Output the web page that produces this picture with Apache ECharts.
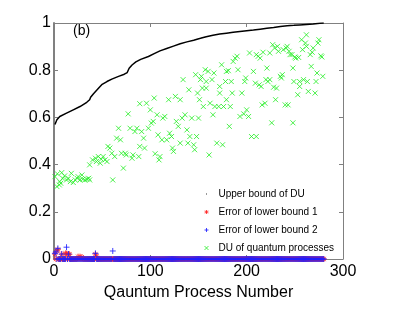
<!DOCTYPE html>
<html><head><meta charset="utf-8">
<script src="https://cdn.jsdelivr.net/npm/echarts@6/dist/echarts.min.js"></script>
<style>html,body{margin:0;padding:0;background:#fff}#c{width:415px;height:327px}</style>
</head><body><div id="c"></div>
<script>
// Upper bound of DU: [process number, value]
const upperBound = [[1,.57],[3,.59],[6,.604],[13,.618],[20,.632],[27,.646],[34,.664],[37,.675],[38,.685],[41,.700],[45,.718],[50,.740],[55,.752],[60,.762],[67,.774],[73,.783],[76,.790],[78,.808],[81,.822],[85,.835],[90,.846],[98,.858],[104,.870],[110,.882],[117,.892],[124,.902],[131,.912],[138,.920],[145,.927],[152,.935],[158,.942],[165,.948],[172,.953],[179,.957],[186,.961],[193,.964],[200,.967],[207,.970],[214,.974],[221,.978],[228,.981],[235,.985],[242,.988],[249,.990],[255,.992],[262,.994],[269,.996],[276,.999],[280,1.0]];

// Error of lower bound 1 (process numbers 1..280)
const errorLower1 = [
0.021,0,0.035,0.04,0,0,0,0.02,0,0,0,0.024,0.022,0,0.021,0.02,0,0,0,0,
0,0,0,0,0.01,0,0.01,0,0.008,0,0,0,0,0,0,0,0,0,0,0,
0,0,0.021,0.012,0,0,0,0,0,0,0,0,0,0,0,0,0,0,0,0,
0,0,0,0,0,0,0,0,0,0,0,0,0,0,0,0,0,0,0,0,
0,0,0,0,0,0,0,0,0,0,0,0,0,0,0,0,0,0,0,0,
0,0,0,0,0,0,0,0,0,0,0,0,0,0,0,0,0,0,0,0,
0,0,0,0,0,0,0,0,0,0,0,0,0,0,0,0,0,0,0,0,
0,0,0,0,0,0,0,0,0,0,0,0,0,0,0,0,0,0,0,0,
0,0,0,0,0,0,0,0,0,0,0,0,0,0,0,0,0,0,0,0,
0,0,0,0,0,0,0,0,0,0,0,0,0,0,0,0,0,0,0,0,
0,0,0,0,0,0,0,0,0,0,0,0,0,0,0,0,0,0,0,0,
0,0,0,0,0,0,0,0,0,0,0,0,0,0,0,0,0,0,0,0,
0,0,0,0,0,0,0,0,0,0,0,0,0,0,0,0,0,0,0,0,
0,0,0,0,0,0,0,0,0,0,0,0,0,0,0,0,0,0,0,0];

// Error of lower bound 2 (process numbers 1..280)
const errorLower2 = [
0.024,0.03,0,0.045,0,0,0,0.021,0,0,0,0,0.05,0,0.021,0,0,0,0,0,
0,0,0,0,0,0,0,0,0,0,0,0,0,0,0,0,0,0,0,0,
0,0,0.024,0,0,0,0,0,0,0,0,0,0,0,0,0,0,0,0,0,
0.034,0,0,0,0,0,0,0,0,0,0,0,0,0,0,0,0,0,0,0,
0,0,0,0,0,0,0,0,0,0,0,0,0,0,0,0,0,0,0,0,
0,0,0,0,0,0,0,0,0,0,0,0,0,0,0,0,0,0,0,0,
0,0,0,0,0,0,0,0,0,0,0,0,0,0,0,0,0,0,0,0,
0,0,0,0,0,0,0,0,0,0,0,0,0,0,0,0,0,0,0,0,
0,0,0,0,0,0,0,0,0,0,0,0,0,0,0,0,0,0,0,0,
0,0,0,0,0,0,0,0,0,0,0,0,0,0,0,0,0,0,0,0,
0,0,0,0,0,0,0,0,0,0,0,0,0,0,0,0,0,0,0,0,
0,0,0,0,0,0,0,0,0,0,0,0,0,0,0,0,0,0,0,0,
0,0,0,0,0,0,0,0,0,0,0,0,0,0,0,0,0,0,0,0,
0,0,0,0,0,0,0,0,0,0,0,0,0,0,0,0,0,0,0,0];

// DU of quantum processes: [process number, value]
const duQuantum = [[1,.349],[3.5,.361],[3,.307],[6,.328],[8,.366],[9,.342],[11,.352],[13,.335],[15,.342],[17,.328],[18,.363],[20,.324],[22,.335],[24,.342],[25,.349],[27,.335],[29,.356],[30,.338],[32,.335],[34,.338],[36,.342],[37,.335],[5.5,.314],[7,.321],
[37,.399],[40,.420],[43,.427],[44,.413],[46,.434],[48,.406],[49,.423],[51,.434],[53,.420],[55,.413],[56,.477],[58,.470],[60,.448],[61,.335],[63,.434],[65,.512],[67,.554],[69,.505],[70,.448],[72,.385],[74,.448],[75,.441],[77,.615],[79,.554],[81,.427],[82,.441],[84,.540],[86,.554],[88,.434],[89,.658],[89,.477],[91,.540],[93,.512],[94,.470],[96,.660],[98,.554],[100,.632],[101,.576],[103,.583],[104,.682],[105,.446],[107,.611],[108,.526],[109,.420],[110,.434],[112,.505],[113,.597],[115,.604],[117,.505],[119,.675],[120,.533],[122,.519],[123,.470],[124,.456],[126,.689],[127,.583],[129,.562],[131,.491],[131,.675],[133,.597],[134,.760],[136,.611],[138,.547],[139,.491],[140,.717],[141,.519],[143,.597],[145,.484],[146,.463],[147,.781],[148,.519],[149,.703],[150,.597],[151,.675],[152,.760],[153,.774],[154,.724],[155,.646],[157,.802],[158,.752],[158,.724],[160,.795],[161,.441],[162,.660],[164,.760],[165,.611],[166,.788],[167,.646],[169,.491],[171,.646],[172,.703],[172,.731],[174,.823],[175,.484],[176,.646],[178,.752],[179,.795],[179,.675],[181,.798],[182,.562],[183,.646],[184,.752],[185,.703],[186,.837],[188,.851],[190,.859],[191,.802],[193,.604],[195,.703],[197,.615],[198,.752],[199,.767],[200,.632],[202,.604],[203,.873],[205,.519],[207,.795],[209,.745],[210,.866],[210,.519],[212,.859],[213,.738],[214,.851],[215,.731],[216,.653],[217,.876],[219,.660],[220,.760],[221,.809],[222,.752],[224,.760],[224,.873],[226,.577],[227,.908],[228,.728],[229,.894],[230,.675],[231,.724],[232,.901],[233,.880],[235,.774],[236,.767],[237,.781],[238,.887],[240,.653],[241,.894],[242,.901],[243,.653],[244,.880],[245,.866],[247,.866],[248,.577],[248,.809],[249,.752],[250,.856],[251,.851],[253,.696],[254,.854],[255,.731],[255,.752],[257,.929],[258,.887],[259,.760],[261,.915],[262,.950],[262,.901],[263,.752],[264,.710],[266,.866],[267,.816],[268,.876],[269,.894],[271,.703],[272,.752],[273,.788],[274,.915],[275,.929],[277,.861],[278,.856],[279,.774]];

const xTicks = {min: 0, max: 300, interval: 100};
const yTicks = {min: 0, max: 1, interval: 0.2};
const seriesNames = ['Upper bound of DU','Error of lower bound 1','Error of lower bound 2','DU of quantum processes'];

const pairs = arr => arr.map((v, i) => [i + 1, v]);
const FONT = 'Liberation Sans, Arial, Helvetica, sans-serif';
const AX = '#808080';
const PLUS = 'path://M0,5L10,5M5,0L5,10';
const CROSS = 'path://M1,1L9,9M9,1L1,9';
const STAR = 'path://M0,5L10,5M5,0L5,10M1.5,1.5L8.5,8.5M8.5,1.5L1.5,8.5';
const DOT = 'path://M0,0M10,10M4,4L6,4L6,6L4,6Z';
const RED = '#ff2020', BLUE = '#2020ff', GREEN = '#22ee22';

const chart = echarts.init(document.getElementById('c'), null, {renderer: 'canvas'});
chart.setOption({
  animation: false,
  backgroundColor: '#fff',
  grid: {left: 54, right: 72, top: 23, bottom: 68, containLabel: false},
  xAxis: [{
    type: 'value', min: xTicks.min, max: xTicks.max, interval: xTicks.interval, position: 'bottom',
    name: 'Qauntum Process Number', nameLocation: 'middle', nameGap: 20,
    nameTextStyle: {fontFamily: FONT, fontSize: 16, color: '#000'},
    axisLine: {onZero: false, lineStyle: {color: AX, width: 1}},
    axisTick: {inside: true, length: 4, lineStyle: {color: AX}},
    axisLabel: {fontFamily: FONT, fontSize: 16, color: '#000', margin: 5},
    splitLine: {show: false}
  }, {
    type: 'value', min: xTicks.min, max: xTicks.max, interval: xTicks.interval, position: 'top',
    axisLine: {onZero: false, lineStyle: {color: AX, width: 1}},
    axisTick: {inside: true, length: 4, lineStyle: {color: AX}},
    axisLabel: {show: false}, splitLine: {show: false}
  }],
  yAxis: [{
    type: 'value', min: yTicks.min, max: yTicks.max, interval: yTicks.interval, position: 'left',
    axisLine: {show: true, onZero: false, lineStyle: {color: AX, width: 2}},
    axisTick: {show: true, inside: true, length: 4, lineStyle: {color: AX}},
    axisLabel: {fontFamily: FONT, fontSize: 16, color: '#000', margin: 3},
    splitLine: {show: false}
  }, {
    type: 'value', min: yTicks.min, max: yTicks.max, interval: yTicks.interval, position: 'right',
    axisLine: {show: true, onZero: false, lineStyle: {color: AX, width: 1}},
    axisTick: {show: true, inside: true, length: 4, lineStyle: {color: AX}},
    axisLabel: {show: false}, splitLine: {show: false}
  }],
  legend: {
    left: 197, top: 184, orient: 'vertical', itemGap: 8, itemWidth: 14, itemHeight: 4,
    textStyle: {fontFamily: FONT, fontSize: 10, color: '#000'},
    data: [
      {name: seriesNames[0], icon: DOT, itemStyle: {color: '#000', borderWidth: 0}},
      {name: seriesNames[1], icon: STAR, itemStyle: {color: 'none', borderColor: RED, borderWidth: 1}},
      {name: seriesNames[2], icon: PLUS, itemStyle: {color: 'none', borderColor: BLUE, borderWidth: 1}},
      {name: seriesNames[3], icon: CROSS, itemStyle: {color: 'none', borderColor: GREEN, borderWidth: 1}}
    ]
  },
  graphic: [{type: 'text', left: 73, top: 24, style: {text: '(b)', font: '14px ' + FONT, fill: '#000'}}],
  series: [{
    name: seriesNames[0], type: 'line', data: upperBound, showSymbol: false, symbol: 'circle',
    lineStyle: {color: '#000', width: 1.5}, itemStyle: {color: '#000'}, z: 3
  }, {
    name: seriesNames[1], type: 'scatter', data: pairs(errorLower1), symbol: STAR, symbolSize: 6,
    itemStyle: {color: 'none', borderColor: RED, borderWidth: 1}, z: 4
  }, {
    name: seriesNames[2], type: 'scatter', data: pairs(errorLower2), symbol: PLUS, symbolSize: 6,
    itemStyle: {color: 'none', borderColor: BLUE, borderWidth: 1, opacity: 0.85}, z: 5
  }, {
    name: seriesNames[3], type: 'scatter', data: duQuantum, symbol: CROSS, symbolSize: 5,
    itemStyle: {color: 'none', borderColor: GREEN, borderWidth: 1}, z: 2
  }]
});
</script></body></html>
